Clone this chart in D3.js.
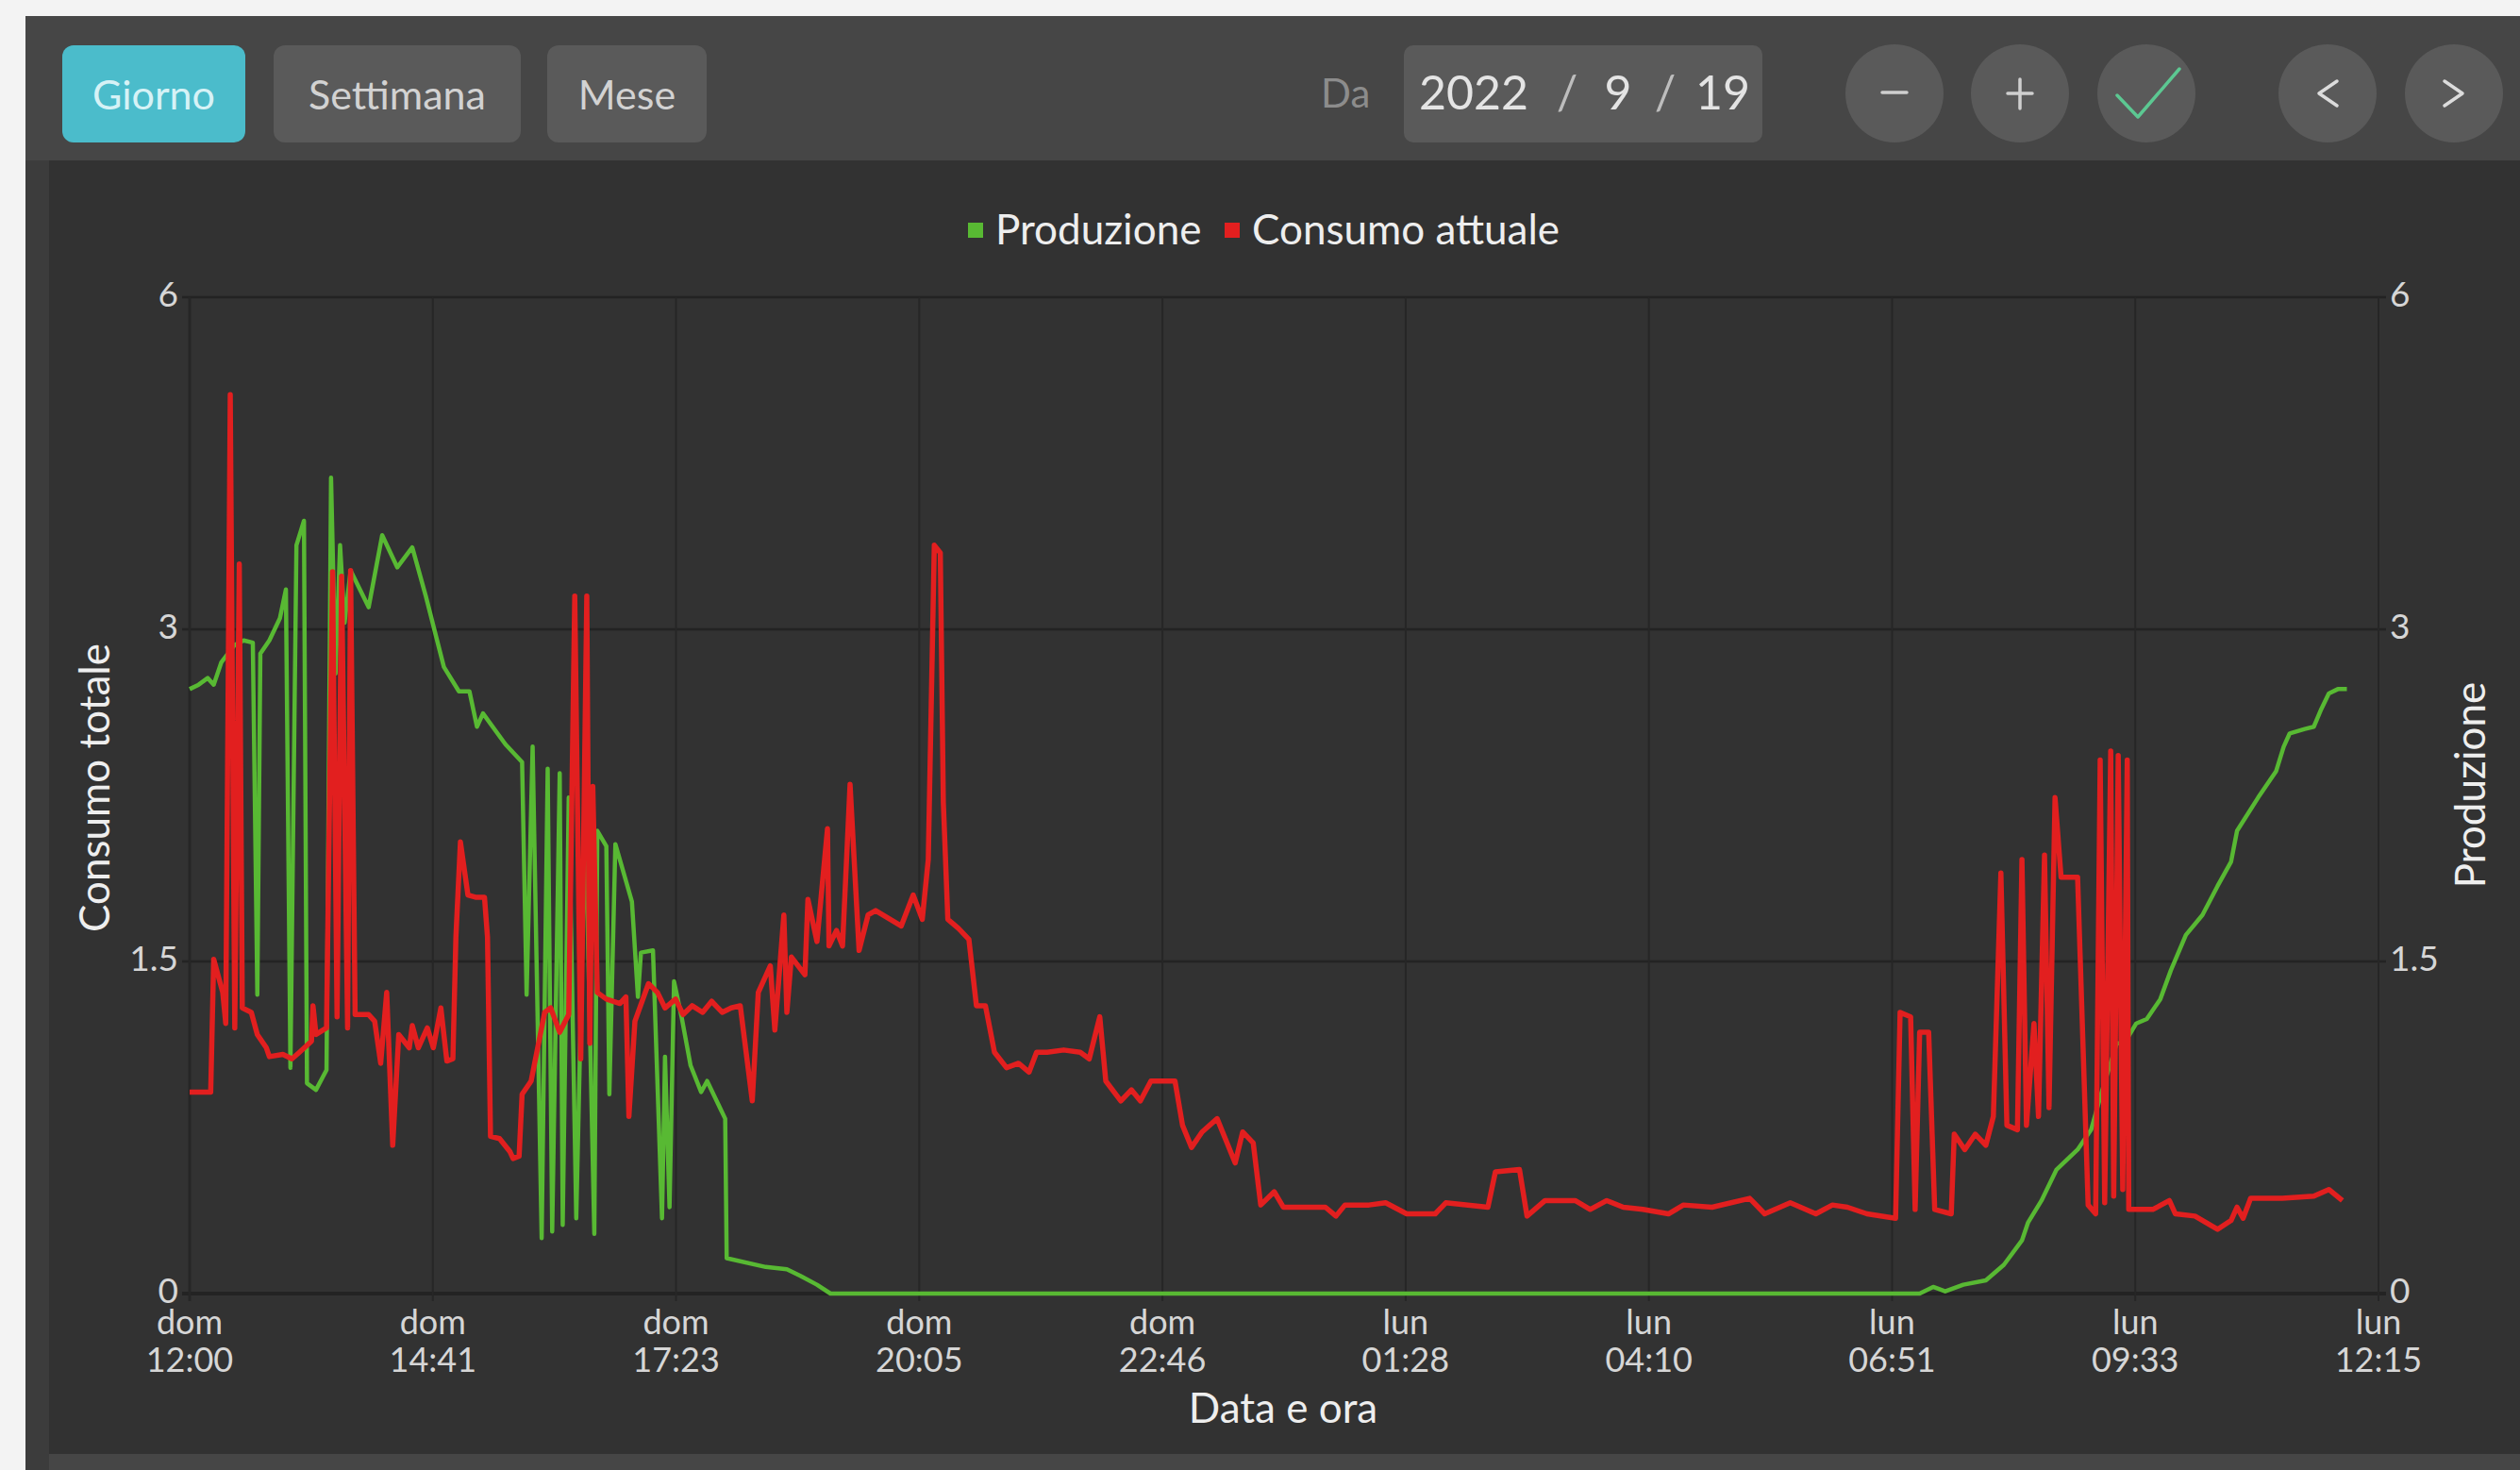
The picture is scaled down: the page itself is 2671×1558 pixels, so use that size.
<!DOCTYPE html>
<html>
<head>
<meta charset="utf-8">
<script src="https://d3js.org/d3.v7.min.js"></script>
<style>
  body { margin: 0; background: #f1f1f1; }
  svg { display: block; font-family: Lato, "Open Sans", sans-serif; }
</style>
</head>
<body>
<svg id="chart" width="2671" height="1558"></svg>
<script>

// ---- data (kW) ----

var produzioneTimes = ['12:00','12:06','12:12','12:16','12:21','12:30','12:36','12:42','12:45','12:47',
  '12:53','13:00','13:04','13:07','13:11','13:16','13:18','13:24','13:31','13:34','13:37','13:40',
  '13:43','13:47','13:59','14:08','14:18','14:28','14:37','14:49','14:59','15:06','15:11','15:15',
  '15:30','15:41','15:44','15:48','15:54','15:58','16:01','16:06','16:08','16:12','16:17','16:23',
  '16:29','16:31','16:37','16:39','16:43','16:54','16:58','17:00','17:08','17:14','17:16','17:19',
  '17:22','17:27','17:33','17:40','17:44','17:56','17:57','18:23','18:37','18:46','18:57','19:06',
  '21:00','00:00','03:00','06:00','07:10','07:19','07:27','07:39','07:54','08:06','08:18','08:22',
  '08:31','08:41','08:55','09:04','09:11','09:21','09:26','09:34','09:41','09:50','09:57','10:07',
  '10:18','10:28','10:37','10:41','10:55','11:07','11:12','11:16','11:26','11:32','11:37','11:42',
  '11:48','11:54'];
var produzioneValues = [2.73,2.75,2.78,2.75,2.85,2.93,2.95,2.94,1.35,2.89,
  2.95,3.10,3.36,1.02,3.76,3.98,0.95,0.92,1.01,4.37,2.80,3.76,
  3.06,3.53,3.20,3.85,3.56,3.74,3.30,2.83,2.72,2.72,2.56,2.62,
  2.48,2.40,1.35,2.47,0.25,2.37,0.28,2.35,0.31,2.24,0.34,2.18,
  0.27,2.09,2.02,0.90,2.03,1.77,1.34,1.54,1.55,0.34,1.07,0.39,
  1.41,1.25,1.03,0.91,0.96,0.79,0.16,0.12,0.11,0.08,0.04,0,
  0,0,0,0,0,0.03,0.01,0.04,0.06,0.13,0.24,0.32,
  0.42,0.56,0.65,0.74,0.91,1.13,1.13,1.22,1.24,1.33,1.46,1.62,
  1.71,1.84,1.95,2.09,2.24,2.36,2.47,2.53,2.55,2.56,2.64,2.71,
  2.73,2.73];

var consumoTimes = ['12:00','12:14','12:16','12:22','12:24','12:27','12:30','12:33','12:35','12:41',
  '12:45','12:51','12:53','13:02','13:08','13:13','13:21','13:22','13:24','13:31','13:35','13:38',
  '13:41','13:45','13:47','13:50','13:59','14:03','14:07','14:11','14:15','14:19','14:26','14:28',
  '14:32','14:38','14:42','14:47','14:51','14:55','14:57','15:00','15:05','15:10','15:16','15:18',
  '15:20','15:26','15:33','15:35','15:39','15:41','15:47','15:56','16:00','16:06','16:12','16:16',
  '16:20','16:24','16:26','16:28','16:31','16:37','16:46','16:50','16:52','16:56','17:05','17:11',
  '17:16','17:23','17:28','17:34','17:41','17:47','17:54','18:00','18:06','18:14','18:18','18:26',
  '18:29','18:35','18:37','18:40','18:49','18:51','18:57','19:04','19:05','19:10','19:14','19:19',
  '19:25','19:31','19:36','19:53','20:01','20:07','20:11','20:15','20:19','20:21','20:24','20:31',
  '20:38','20:43','20:49','20:55','21:03','21:11','21:18','21:23','21:30','21:41','21:52','21:58',
  '22:05','22:09','22:19','22:26','22:32','22:39','22:55','23:00','23:06','23:13','23:23','23:29',
  '23:35','23:40','23:47','23:52','00:01','00:07','00:21','00:35','00:42','00:48','01:04','01:15',
  '01:29','01:48','01:55','02:23','02:28','02:44','02:49','03:01','03:21','03:31','03:42','03:53',
  '04:06','04:23','04:33','04:52','05:17','05:27','05:44','06:01','06:12','06:22','06:35','06:54',
  '06:57','07:04','07:07','07:10','07:16','07:20','07:31','07:33','07:40','07:47','07:54','07:59',
  '08:04','08:08','08:15','08:18','08:21','08:26','08:29','08:33','08:36','08:40','08:44','08:55',
  '09:02','09:07','09:10','09:13','09:17','09:19','09:22','09:25','09:28','09:29','09:45','09:56',
  '10:00','10:13','10:28','10:37','10:41','10:45','10:50','11:11','11:32','11:42','11:51'];
var consumoValues = [0.91,0.91,1.51,1.36,1.22,5.12,1.20,3.59,1.29,1.27,
  1.17,1.11,1.07,1.08,1.06,1.09,1.14,1.30,1.17,1.20,3.52,1.25,
  3.48,1.20,3.53,1.26,1.26,1.23,1.04,1.36,0.67,1.17,1.11,1.21,
  1.11,1.20,1.11,1.29,1.05,1.06,1.61,2.04,1.80,1.79,1.79,1.61,
  0.71,0.70,0.64,0.61,0.62,0.90,0.96,1.27,1.29,1.18,1.26,3.30,
  1.06,3.30,1.13,2.29,1.36,1.33,1.31,1.34,0.80,1.23,1.40,1.36,
  1.29,1.33,1.26,1.30,1.27,1.32,1.27,1.29,1.30,0.87,1.36,1.48,
  1.19,1.71,1.27,1.52,1.44,1.78,1.59,2.10,1.57,1.64,1.57,2.30,
  1.55,1.71,1.73,1.66,1.80,1.69,1.96,3.76,3.69,2.22,1.69,1.65,
  1.60,1.30,1.30,1.09,1.02,1.04,1.00,1.09,1.09,1.10,1.09,1.06,
  1.25,0.96,0.87,0.92,0.87,0.96,0.96,0.76,0.66,0.73,0.79,0.69,
  0.59,0.73,0.68,0.40,0.46,0.39,0.39,0.39,0.35,0.40,0.40,0.41,
  0.36,0.36,0.41,0.39,0.55,0.56,0.35,0.42,0.42,0.38,0.42,0.39,
  0.38,0.36,0.40,0.39,0.43,0.36,0.41,0.36,0.40,0.39,0.36,0.34,
  1.27,1.25,0.38,1.18,1.18,0.38,0.36,0.72,0.65,0.72,0.67,0.80,
  1.90,0.76,0.74,1.96,0.76,1.22,0.80,1.98,0.84,2.24,1.88,1.88,
  0.40,0.36,2.41,0.41,2.45,0.44,2.43,0.47,2.41,0.38,0.38,0.42,
  0.36,0.35,0.29,0.33,0.39,0.34,0.43,0.43,0.44,0.47,0.42];

var yTicks = [0, 1.5, 3, 6];
var xTickLabels = ['dom 12:00','dom 14:41','dom 17:23','dom 20:05','dom 22:46',
  'lun 01:28','lun 04:10','lun 06:51','lun 09:33','lun 12:15'];
var legendItems = [{name: 'Produzione', color: '#58b933'}, {name: 'Consumo attuale', color: '#e21f1f'}];

var tStart = new Date(2022, 8, 18, 12, 0);
var tEnd = new Date(2022, 8, 19, 12, 15);

// "HH:MM" list -> dates, rolling over to the next day when the clock goes back
function toDates(times) {
  var day = 0, prev = -1;
  return times.map(function(s) {
    var p = s.split(':'), mins = +p[0] * 60 + +p[1];
    if (mins < prev) day++;
    prev = mins;
    return new Date(2022, 8, 18 + day, +p[0], +p[1]);
  });
}

var produzione = toDates(produzioneTimes).map(function(d, i) { return {t: d, v: produzioneValues[i]}; });
var consumo = toDates(consumoTimes).map(function(d, i) { return {t: d, v: consumoValues[i]}; });

var svg = d3.select('#chart');

// ---- page / panels ----
svg.append('rect').attr('width', 2671).attr('height', 1558).attr('fill', '#f3f3f3');
svg.append('rect').attr('x', 27).attr('y', 17).attr('width', 2644).attr('height', 1541).attr('fill', '#464646');
svg.append('rect').attr('x', 27).attr('y', 170).attr('width', 25).attr('height', 1388).attr('fill', '#3c3c3c');
svg.append('rect').attr('x', 52).attr('y', 170).attr('width', 2619).attr('height', 1371).attr('fill', '#323232');

// ---- toolbar ----
var buttons = [
  {label: 'Giorno', x: 66, w: 194, fill: '#4bbccb', color: '#d6f2f6'},
  {label: 'Settimana', x: 290, w: 262, fill: '#5a5a5a', color: '#d2d2d2'},
  {label: 'Mese', x: 580, w: 169, fill: '#5a5a5a', color: '#d2d2d2'}
];
var bar = svg.append('g');
bar.selectAll('rect.btn').data(buttons).enter().append('rect')
  .attr('class', 'btn')
  .attr('x', function(d) { return d.x; })
  .attr('y', 48).attr('width', function(d) { return d.w; }).attr('height', 103)
  .attr('rx', 12).attr('fill', function(d) { return d.fill; });
bar.selectAll('text.btn').data(buttons).enter().append('text')
  .attr('class', 'btn')
  .attr('x', function(d) { return d.x + d.w / 2; })
  .attr('y', 116).attr('text-anchor', 'middle')
  .attr('font-size', 43).attr('fill', function(d) { return d.color; })
  .text(function(d) { return d.label; });

bar.append('text').attr('x', 1400).attr('y', 114).attr('font-size', 42).attr('fill', '#8c8c8c').text('Da');
bar.append('rect').attr('x', 1488).attr('y', 48).attr('width', 380).attr('height', 103).attr('rx', 10).attr('fill', '#5a5a5a');
var dateParts = [{s: '2022', x: 1562}, {s: '/', x: 1661}, {s: '9', x: 1715}, {s: '/', x: 1765}, {s: '19', x: 1826}];
bar.selectAll('text.date').data(dateParts).enter().append('text')
  .attr('class', 'date')
  .attr('x', function(d) { return d.x; }).attr('y', 116)
  .attr('text-anchor', 'middle').attr('font-size', 50)
  .attr('fill', function(d) { return d.s == '/' ? '#bdbdbd' : '#e4e4e4'; })
  .text(function(d) { return d.s; });

var circles = [2008, 2141, 2275, 2467, 2601];
bar.selectAll('circle').data(circles).enter().append('circle')
  .attr('cx', function(d) { return d; }).attr('cy', 99).attr('r', 52).attr('fill', '#5a5a5a');

var icons = [
  {d: 'M1995,98 L2021,98', c: '#cfcfcf'},
  {d: 'M2128,99 L2154,99 M2141,84 L2141,115', c: '#cfcfcf'},
  {d: 'M2244,101 L2266,124 L2310,73', c: '#5cc892'},
  {d: 'M2477,86 L2458,99 L2477,112', c: '#dcdcdc'},
  {d: 'M2591,86 L2610,99 L2591,112', c: '#dcdcdc'}
];
bar.selectAll('path').data(icons).enter().append('path')
  .attr('d', function(d) { return d.d; })
  .attr('fill', 'none').attr('stroke', function(d) { return d.c; })
  .attr('stroke-width', 3.5).attr('stroke-linecap', 'round').attr('stroke-linejoin', 'round');

// ---- scales ----
var plotLeft = 201, plotRight = 2521, plotTop = 315, plotBottom = 1371;
var step = (plotBottom - plotTop) / 3;

var x = d3.scaleTime().domain([tStart, tEnd]).range([plotLeft, plotRight]);
// gridlines are evenly spaced although the labels are 0, 1.5, 3, 6
var y = d3.scaleLinear().domain(yTicks).range([plotBottom, plotBottom - step, plotBottom - 2 * step, plotTop]);

var tickDates = xTickLabels.map(function(_, i) {
  return new Date(+tStart + i * (tEnd - tStart) / (xTickLabels.length - 1));
});

// ---- grid ----
var grid = svg.append('g');
grid.selectAll('line.h').data(yTicks).enter().append('line')
  .attr('class', 'h')
  .attr('x1', plotLeft - 8).attr('x2', plotRight + 8)
  .attr('y1', function(d) { return y(d); }).attr('y2', function(d) { return y(d); })
  .attr('stroke', '#232323').attr('stroke-width', function(d) { return d == 0 ? 4 : 2.5; });
grid.selectAll('line.v').data(tickDates).enter().append('line')
  .attr('class', 'v')
  .attr('y1', plotTop).attr('y2', plotBottom + 8)
  .attr('x1', function(d) { return x(d); }).attr('x2', function(d) { return x(d); })
  .attr('stroke', '#262626').attr('stroke-width', function(d, i) { return i == 0 ? 3 : 2; });

// ---- axes labels ----
var axes = svg.append('g').attr('fill', '#d6d6d6').attr('font-size', 37);
axes.selectAll('text.yl').data(yTicks).enter().append('text')
  .attr('class', 'yl')
  .attr('x', plotLeft - 12).attr('y', function(d) { return y(d) - 3; }).attr('dy', '0.36em')
  .attr('text-anchor', 'end').text(function(d) { return d; });
axes.selectAll('text.yr').data(yTicks).enter().append('text')
  .attr('class', 'yr')
  .attr('x', plotRight + 12).attr('y', function(d) { return y(d) - 3; }).attr('dy', '0.36em')
  .attr('text-anchor', 'start').text(function(d) { return d; });

var xl = axes.selectAll('text.xl').data(tickDates).enter().append('text')
  .attr('class', 'xl')
  .attr('text-anchor', 'middle').attr('font-size', 36);
xl.append('tspan')
  .attr('x', function(d) { return x(d); }).attr('y', 1414)
  .text(function(d, i) { return xTickLabels[i].split(' ')[0]; });
xl.append('tspan')
  .attr('x', function(d) { return x(d); }).attr('y', 1454)
  .text(function(d, i) { return xTickLabels[i].split(' ')[1]; });

svg.append('text').attr('x', 1360).attr('y', 1508).attr('text-anchor', 'middle')
  .attr('font-size', 44).attr('fill', '#eeeeee').text('Data e ora');
svg.append('text').attr('transform', 'translate(116,835) rotate(-90)').attr('text-anchor', 'middle')
  .attr('font-size', 44).attr('fill', '#eeeeee').text('Consumo totale');
svg.append('text').attr('transform', 'translate(2634,832) rotate(-90)').attr('text-anchor', 'middle')
  .attr('font-size', 44).attr('fill', '#eeeeee').text('Produzione');

// ---- legend ----
var legendX = [1026, 1298];
var lg = svg.append('g');
lg.selectAll('rect').data(legendItems).enter().append('rect')
  .attr('x', function(d, i) { return legendX[i]; }).attr('y', 236)
  .attr('width', 16).attr('height', 16).attr('fill', function(d) { return d.color; });
lg.selectAll('text').data(legendItems).enter().append('text')
  .attr('x', function(d, i) { return legendX[i] + 29; }).attr('y', 259)
  .attr('font-size', 44).attr('fill', '#eeeeee')
  .text(function(d) { return d.name; });

// ---- lines ----
var line = d3.line()
  .x(function(d) { return x(d.t); })
  .y(function(d) { return y(d.v); });

svg.append('path').datum(produzione)
  .attr('d', line).attr('fill', 'none')
  .attr('stroke', legendItems[0].color).attr('stroke-width', 4.5)
  .attr('stroke-linejoin', 'round');
svg.append('path').datum(consumo)
  .attr('d', line).attr('fill', 'none')
  .attr('stroke', legendItems[1].color).attr('stroke-width', 5.5)
  .attr('stroke-linejoin', 'round');

</script>
</body>
</html>
